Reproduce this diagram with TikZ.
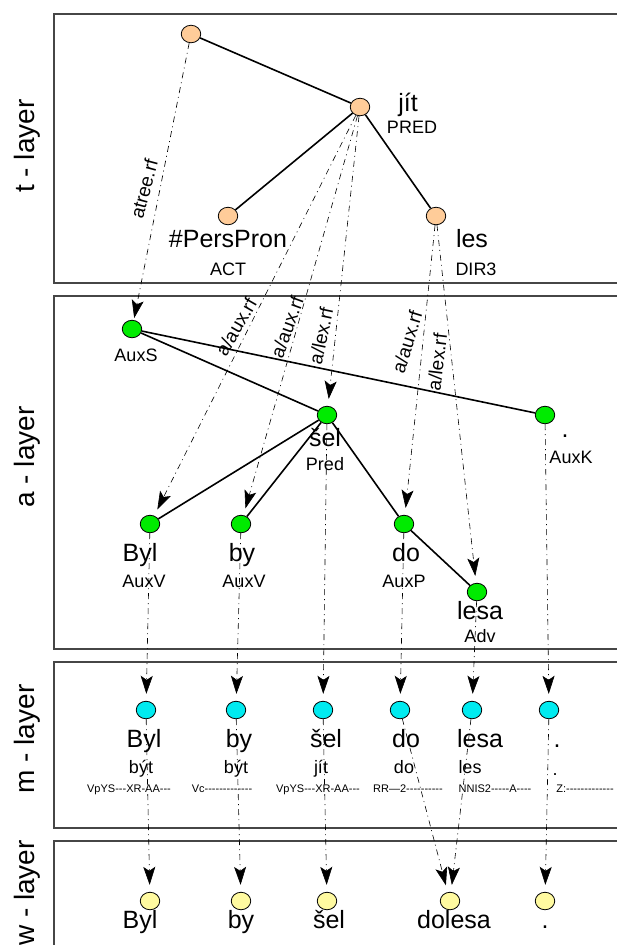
\documentclass[tikz,border=0pt]{standalone}
\usepackage{fontspec}
\setmainfont{Liberation Sans}
\newfontfamily\tagfont{Liberation Sans}
\usetikzlibrary{arrows.meta,shapes.geometric}
\definecolor{tcol}{RGB}{255,204,153}
\definecolor{acol}{RGB}{0,235,0}
\definecolor{mcol}{RGB}{0,235,240}
\definecolor{wcol}{RGB}{255,250,160}
\definecolor{boxcol}{RGB}{70,70,70}
\begin{document}
\begin{tikzpicture}[x=1pt,y=-1pt,
  nd/.style={ellipse,draw=black,line width=0.8pt,minimum width=19.5pt,minimum height=17.5pt,inner sep=0pt},
  tnd/.style={nd,fill=tcol},
  and/.style={nd,fill=acol},
  mnd/.style={nd,fill=mcol},
  wnd/.style={nd,fill=wcol},
  edge/.style={line width=1.6pt,black},
  ref/.style={line width=0.6pt,black,dash pattern=on 6pt off 4pt on 1pt off 4pt,
    -{Stealth[length=18pt,width=12pt,inset=4pt]},shorten >=7pt},
  big/.style={font=\fontsize{25}{25}\selectfont,inner sep=0pt,anchor=base},
  sml/.style={font=\fontsize{18}{18}\selectfont,inner sep=0pt,anchor=base},
  tagt/.style={font=\tagfont\fontsize{11}{11}\selectfont,inner sep=0pt,anchor=base},
  rlab/.style={font=\fontsize{19}{19}\selectfont,inner sep=0pt},
  layer/.style={font=\fontsize{28}{28}\selectfont,rotate=90,inner sep=0pt},
  lbox/.style={draw=boxcol,line width=1.3pt}]
\useasboundingbox (0,0) rectangle (617,945);
\clip (0,0) rectangle (617,945);
% layer boxes (open on the right, as in the reference)
\draw[lbox] (640,14) -- (54,14) -- (54,283) -- (640,283);
\draw[lbox] (640,296) -- (54,296) -- (54,649) -- (640,649);
\draw[lbox] (640,662) -- (54,662) -- (54,828) -- (640,828);
\draw[lbox] (640,841) -- (54,841) -- (54,960);
\node[layer] (lt) at (27,146) {t - layer};
\node[layer] (la) at (27,457) {a - layer};
\node[layer] (lm) at (27,739) {m - layer};
\node[layer] (lw) at (27,893) {w - layer};
% t-layer
\node[tnd] (troot) at (191,34) {};
\node[tnd] (tjit) at (360,107) {};
\node[tnd] (tpers) at (228,216) {};
\node[tnd] (tles) at (436,216) {};
\node[big] (tjitw) at (408,111) {jít};
\node[sml] (tjitf) at (412,133) {PRED};
\node[big] (tpersw) at (228,247) {\#PersPron};
\node[sml] (tpersf) at (228,275) {ACT};
\node[big] (tlesw) at (472,247) {les};
\node[sml] (tlesf) at (476,275) {DIR3};
% a-layer
\node[and] (aroot) at (132,329) {};
\node[and] (asel) at (327,415) {};
\node[and] (aK) at (545,415) {};
\node[and] (abyl) at (150,524) {};
\node[and] (aby) at (241,524) {};
\node[and] (ado) at (404,524) {};
\node[and] (alesa) at (477,592) {};
\node[sml] (arootf) at (136,361) {AuxS};
\node[big] (aselw) at (325,446) {šel};
\node[sml] (aself) at (325,470) {Pred};
\node[big] (aKw) at (565,437) {.};
\node[sml] (aKf) at (571,463) {AuxK};
\node[big] (abylw) at (140,561) {Byl};
\node[sml] (abylf) at (144,587) {AuxV};
\node[big] (abyw) at (242,561) {by};
\node[sml] (abyf) at (244,587) {AuxV};
\node[big] (adow) at (406,561) {do};
\node[sml] (adof) at (404,587) {AuxP};
\node[big] (alesaw) at (480,619) {lesa};
\node[sml] (alesaf) at (480,642) {Adv};
% m-layer
\node[mnd] (mbyl) at (146,710) {};
\node[mnd] (mby) at (236,710) {};
\node[mnd] (msel) at (323,710) {};
\node[mnd] (mdo) at (400,710) {};
\node[mnd] (mlesa) at (472,710) {};
\node[mnd] (mdot) at (549,710) {};
\node[big] (mbylw) at (144,747) {Byl};
\node[big] (mbyw) at (239,747) {by};
\node[big] (mselw) at (326,747) {šel};
\node[big] (mdow) at (406,747) {do};
\node[big] (mlesaw) at (480,747) {lesa};
\node[big] (mdotw) at (557,747) {.};
\node[sml] (mbyll) at (141,773) {být};
\node[sml] (mbyl2) at (236,773) {být};
\node[sml] (msell) at (321,773) {jít};
\node[sml] (mdol) at (404,773) {do};
\node[sml] (mlesal) at (470,773) {les};
\node[sml] (mdotl) at (555,775) {.};
\node[tagt] (mbylt) at (129,792) {VpYS---XR-AA---};
\node[tagt] (mbyt) at (222,792) {Vc-------------};
\node[tagt] (mselt) at (318,792) {VpYS---XR-AA---};
\node[tagt] (mdot2) at (408,792) {RR—2----------};
\node[tagt] (mlesat) at (495,792) {NNIS2-----A----};
\node[tagt] (mdott) at (585,792) {Z:-------------};
% w-layer
\node[wnd] (wbyl) at (150,901) {};
\node[wnd] (wby) at (241,901) {};
\node[wnd] (wsel) at (327,901) {};
\node[wnd] (wdolesa) at (450,901) {};
\node[wnd] (wdot) at (545,901) {};
\node[big] (wbylw) at (140,928) {Byl};
\node[big] (wbyw) at (241,928) {by};
\node[big] (wselw) at (329,928) {šel};
\node[big] (wdolesaw) at (454,928) {dolesa};
\node[big] (wdotw) at (545,928) {.};
% tree edges
\draw[edge] (troot) -- (tjit);
\draw[edge] (tjit) -- (tpers);
\draw[edge] (tjit) -- (tles);
\draw[edge] (aroot) -- (asel);
\draw[edge] (aroot) -- (aK);
\draw[edge] (asel) -- (abyl);
\draw[edge] (asel) -- (aby);
\draw[edge] (asel) -- (ado);
\draw[edge] (ado) -- (alesa);
% references t -> a
\draw[ref,shorten >=2pt] (troot) -- (aroot);
\draw[ref] (tjit) -- (abyl);
\draw[ref] (tjit) -- (aby);
\draw[ref] (tjit) -- (asel);
\draw[ref] (tles) -- (ado);
\draw[ref] (tles) -- (alesa);
\node[rlab,rotate=75] (l1) at (144,189) {atree.rf};
\node[rlab,rotate=60] (l2) at (236,327) {a/aux.rf};
\node[rlab,rotate=70] (l3) at (287,327) {a/aux.rf};
\node[rlab,rotate=78] (l4) at (321,336) {a/lex.rf};
\node[rlab,rotate=73] (l5) at (407,342) {a/aux.rf};
\node[rlab,rotate=83] (l6) at (437,362) {a/lex.rf};
% references a -> m
\draw[ref] (abyl) -- (mbyl);
\draw[ref] (aby) -- (mby);
\draw[ref] (asel) -- (msel);
\draw[ref] (ado) -- (mdo);
\draw[ref] (alesa) -- (mlesa);
\draw[ref] (aK) -- (mdot);
% references m -> w
\draw[ref] (mbyl) -- (wbyl);
\draw[ref] (mby) -- (wby);
\draw[ref] (msel) -- (wsel);
\draw[ref] (mdo) -- (wdolesa);
\draw[ref] (mlesa) -- (wdolesa);
\draw[ref] (mdot) -- (wdot);
\end{tikzpicture}
\end{document}
